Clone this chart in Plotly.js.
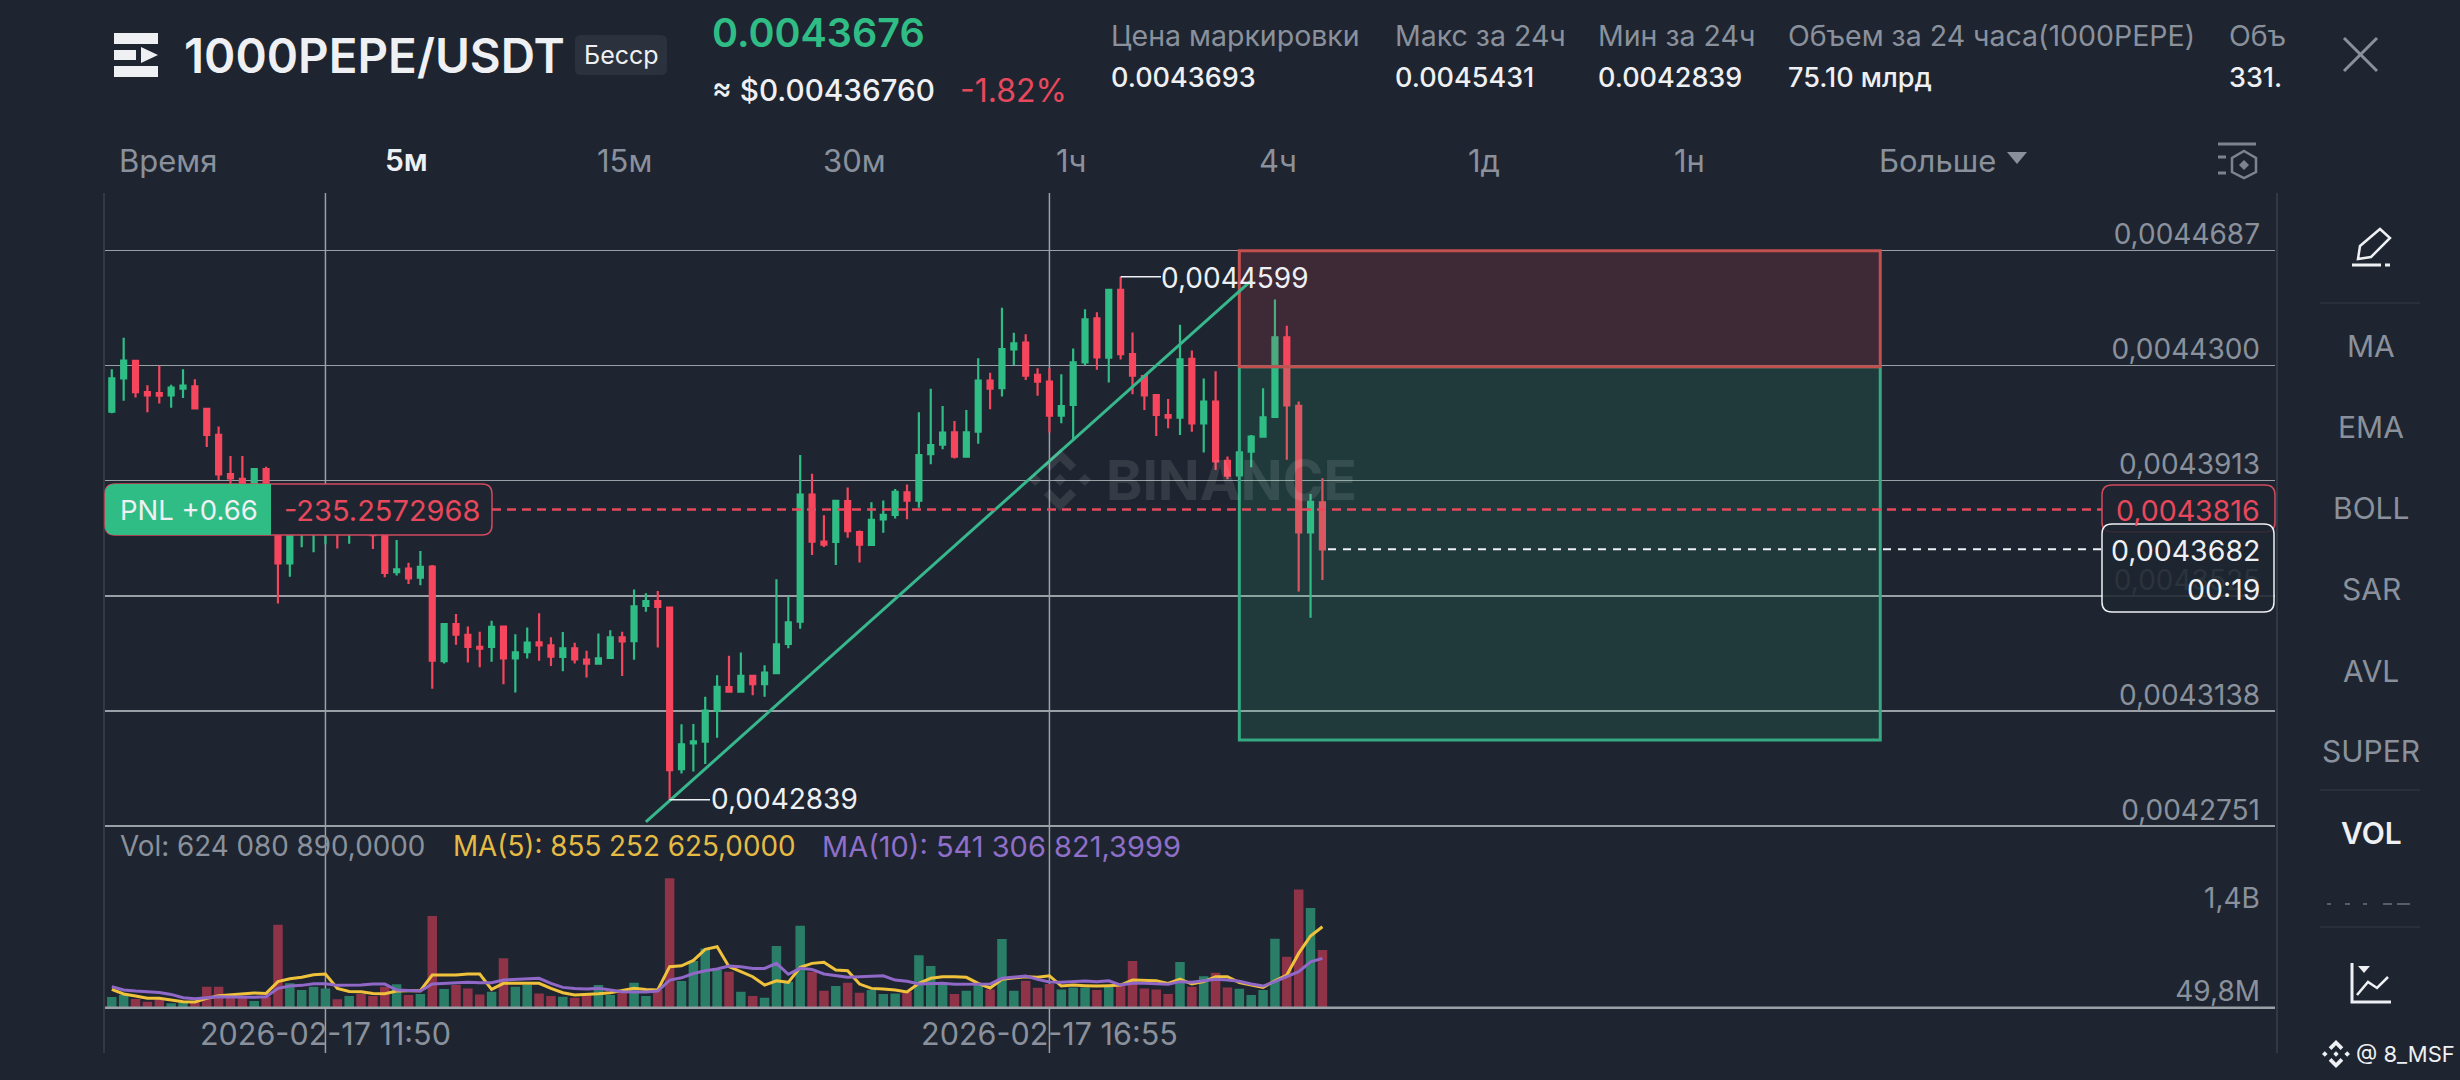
<!DOCTYPE html>
<html><head><meta charset="utf-8">
<script src="https://cdn.plot.ly/plotly-3.0.1.min.js"></script>
<style>html,body{margin:0;padding:0;background:#1e2530;overflow:hidden}#c{width:2460px;height:1080px}svg text{font-variant-numeric:tabular-nums}</style>
</head><body><div id="c"></div>
<script>
// price values x 1e7
const openE7=[44145,44257,44316,44211,44208,44200,44223,44230,44155,44067,43935,43919,43870,43952,43848,43635,43769,43758,43767,43781,43764,43769,43745,43740,43605,43617,43587,43624,43306,43430,43394,43354,43354,43422,43315,43336,43369,43359,43320,43349,43311,43297,43317,43386,43373,43492,43508,43486,42942,43029,43035,43139,43218,43203,43256,43228,43265,43364,43439,43866,43708,43707,43844,43740,43697,43783,43798,43874,43846,44002,44034,44076,43994,44078,44250,44224,44355,44378,44269,44246,44132,44168,44311,44459,44327,44555,44339,44265,44201,44134,44125,44323,44106,44179,43980,43931,44011,44061,44128,44395,44165,43739,43840];
const highE7=[44288,44394,44316,44234,44300,44236,44288,44254,44155,44095,43996,43996,43952,43960,43870,43826,43814,43803,43803,43803,43803,43792,43770,43760,43713,43637,43676,43629,43430,43464,43422,43405,43442,43422,43396,43419,43467,43386,43404,43368,43341,43399,43410,43405,43547,43534,43542,43486,43093,43094,43186,43258,43324,43335,43256,43292,43581,43523,43999,43936,43797,43848,43890,43745,43840,43846,43885,43900,44143,44222,44164,44114,44151,44325,44276,44495,44411,44406,44291,44291,44271,44358,44490,44480,44557,44599,44412,44266,44201,44188,44438,44351,44257,44281,43994,44050,44067,44224,44523,44434,44179,43868,43921];
const lowE7=[44140,44182,44193,44143,44173,44158,44191,44156,44026,43915,43902,43887,43850,43820,43500,43590,43689,43672,43699,43685,43701,43736,43683,43588,43594,43565,43561,43213,43298,43361,43301,43285,43304,43228,43200,43315,43307,43289,43272,43298,43251,43297,43317,43256,43310,43472,43352,42839,42928,42934,42960,43048,43203,43200,43191,43186,43263,43349,43415,43663,43690,43629,43721,43638,43697,43738,43786,43783,43822,43968,44019,43988,43994,44037,44153,44196,44302,44252,44199,44075,44106,44050,44302,44286,44243,44321,44204,44151,44063,44089,44067,44078,44008,43949,43918,43931,43958,44061,44128,43983,43540,43452,43579];
const closeE7=[44257,44317,44211,44200,44199,44226,44233,44156,44067,43934,43921,43904,43952,43848,43635,43803,43792,43781,43781,43758,43775,43758,43730,43603,43615,43584,43623,43307,43430,43395,43354,43348,43421,43315,43335,43368,43359,43321,43349,43312,43297,43315,43386,43372,43490,43508,43488,42939,43026,43036,43139,43219,43203,43256,43228,43267,43362,43436,43866,43708,43698,43845,43743,43698,43781,43798,43875,43846,43999,44033,44075,43994,44076,44250,44223,44356,44375,44266,44246,44132,44164,44311,44456,44328,44555,44339,44266,44200,44134,44125,44321,44106,44179,43978,43930,44008,44061,44126,44395,44166,43739,43842,43682];
// volume in millions
const volumeM=[156,176,136,110,136,93,100,110,259,259,159,159,116,159,876,292,226,259,242,133,166,186,166,259,282,176,186,962,236,275,242,182,209,541,259,275,192,166,159,149,176,275,176,226,299,166,226,1337,316,515,640,425,408,209,166,149,663,308,866,408,219,265,299,199,226,186,192,209,571,464,275,186,219,275,232,733,219,318,249,285,232,252,252,226,265,265,514,242,232,186,504,259,362,398,252,239,176,226,736,557,1227,1042,624];
const ma5M=[232,186,166,143,143,126,110,106,143,169,179,192,196,192,309,338,352,378,385,242,212,209,192,189,216,219,219,375,375,375,385,385,232,292,292,292,292,242,199,176,179,189,199,219,242,232,226,458,467,520,630,657,458,408,358,275,318,302,451,491,501,425,418,285,242,236,226,206,292,342,358,358,352,292,246,332,342,358,352,368,265,275,269,265,269,275,325,318,318,292,335,285,309,358,358,299,275,252,318,375,590,763,855];
const ma10M=[259,226,216,209,202,182,149,139,149,159,156,153,153,159,242,265,272,289,289,272,272,275,285,285,226,219,216,285,292,299,302,299,299,325,332,342,342,292,252,242,236,242,226,209,206,206,216,325,347,390,418,435,464,458,441,441,491,382,441,431,385,365,352,358,365,368,325,312,285,292,292,282,282,285,285,342,352,365,332,305,302,309,315,309,318,275,292,292,285,282,309,302,318,332,325,312,285,265,309,358,408,507,541];

const priceTicks=[0.0044687,0.0044300,0.0043913,0.0043525,0.0043138,0.0042751];
const priceTickText=['0,0044687','0,0044300','0,0043913','0,0043525','0,0043138','0,0042751'];
const dateTicks=['2026-02-17 11:50','2026-02-17 16:55'];
const xView=['2026-02-17 10:17:08','2026-02-18 01:31:18'];
const priceView=[0.0042751,0.0044881];
const volView=[49.8e6,1857.7e6];
const entryPrice=0.0043816, lastPrice=0.0043682;
const zoneTime=['2026-02-17 18:15','2026-02-17 22:45'];
const zoneLevels=[0.0044687,0.0044296,0.0043040];
const trendTime=['2026-02-17 14:05','2026-02-17 18:20'];
const trendPrice=[0.0042765,0.0044586];
const hiLabel={t:'2026-02-17 17:25',end:'2026-02-17 17:42',p:0.0044599}, loLabel={t:'2026-02-17 14:15',end:'2026-02-17 14:32',p:0.0042839};

const W=2460,H=1080;
const X=p=>p/W, Y=p=>1-p/H;
const BG='#1e2530',G='#2fbd85',R='#f6465d',GRAY='#8a919c',WH='#eef0f3',GRID='#9aa0a6';
const FONT='Inter, "Noto Sans", sans-serif';

const times=openE7.map((_,i)=>new Date(Date.UTC(2026,1,17,10,20)+i*3e5).toISOString().slice(0,19).replace('T',' '));
const scale=a=>a.map(v=>v/1e7), mil=a=>a.map(v=>v*1e6);

function poly(pts,close=true){return 'M'+pts.map(p=>X(p[0])+','+Y(p[1])).join('L')+(close?'Z':'');}
function rr(x0,y0,x1,y1,r,rl=r,rr_=r){
  const P=(x,y)=>X(x)+','+Y(y);
  return 'M'+P(x0+rl,y0)+'L'+P(x1-rr_,y0)+(rr_?'Q'+P(x1,y0)+' '+P(x1,y0+rr_):'')+'L'+P(x1,y1-rr_)+(rr_?'Q'+P(x1,y1)+' '+P(x1-rr_,y1):'')+'L'+P(x0+rl,y1)+(rl?'Q'+P(x0,y1)+' '+P(x0,y1-rl):'')+'L'+P(x0,y0+rl)+(rl?'Q'+P(x0,y0)+' '+P(x0+rl,y0):'')+'Z';
}
const pathShape=(path,fill,lineColor,lw,extra={})=>Object.assign({type:'path',xref:'paper',yref:'paper',path,fillcolor:fill||'rgba(0,0,0,0)',line:{color:lineColor||'rgba(0,0,0,0)',width:lw||0},layer:'above'},extra);
const seg=(x0,y0,x1,y1,c,w,layer='above')=>({type:'line',xref:'paper',yref:'paper',x0:X(x0),y0:Y(y0),x1:X(x1),y1:Y(y1),line:{color:c,width:w},layer});
const box=(x0,y0,x1,y1,c)=>({type:'rect',xref:'paper',yref:'paper',x0:X(x0),y0:Y(y0),x1:X(x1),y1:Y(y1),fillcolor:c,line:{width:0},layer:'above'});
function logo(cx,cy,s,c){
  const t=a=>a.map(p=>[cx+p[0]*s,cy+p[1]*s]);
  const parts=[
   [[0,-1],[.52,-.48],[.33,-.29],[0,-.62],[-.33,-.29],[-.52,-.48]],
   [[0,1],[.52,.48],[.33,.29],[0,.62],[-.33,.29],[-.52,.48]],
   [[-1,0],[-.8,-.19],[-.6,0],[-.8,.19]],
   [[1,0],[.8,-.19],[.6,0],[.8,.19]],
   [[0,-.19],[.19,0],[0,.19],[-.19,0]]];
  return pathShape(parts.map(a=>poly(t(a))).join(''),c);
}

const shapes=[
  seg(104,193,104,1053,'#3a414c',1.5),
  seg(2277,193,2277,1053,'#3a414c',1.5),
  seg(105,826,2275,826,GRID,2),
  seg(105,1007.7,2275,1007.7,GRID,2.5),
  ...dateTicks.map(t=>({type:'line',xref:'x',yref:'paper',x0:t,x1:t,y0:Y(193),y1:Y(1053),line:{color:GRID,width:1.5},layer:'below'})),
  {type:'rect',xref:'x',yref:'y',x0:zoneTime[0],x1:zoneTime[1],y0:zoneLevels[1],y1:zoneLevels[2],fillcolor:'rgba(47,189,133,0.14)',line:{color:'#34a982',width:3},layer:'above'},
  {type:'rect',xref:'x',yref:'y',x0:zoneTime[0],x1:zoneTime[1],y0:zoneLevels[0],y1:zoneLevels[1],fillcolor:'rgba(246,70,93,0.15)',line:{color:'#c2504f',width:3},layer:'above'},
  {type:'line',xref:'x',yref:'y',x0:trendTime[0],x1:trendTime[1],y0:trendPrice[0],y1:trendPrice[1],line:{color:'#37b78c',width:3},layer:'above'},
  {type:'line',xref:'x',yref:'y',x0:hiLabel.t,x1:hiLabel.end,y0:hiLabel.p,y1:hiLabel.p,line:{color:WH,width:1.5},layer:'above'},
  {type:'line',xref:'x',yref:'y',x0:loLabel.t,x1:loLabel.end,y0:loLabel.p,y1:loLabel.p,line:{color:WH,width:1.5},layer:'above'},
  {type:'line',xref:'paper',yref:'y',x0:X(492),x1:X(2102),y0:entryPrice,y1:entryPrice,line:{color:'#e8485c',width:2.5,dash:'9px,6px'},layer:'above'},
  {type:'line',xref:'paper',yref:'y',x0:X(1328),x1:X(2102),y0:lastPrice,y1:lastPrice,line:{color:WH,width:2,dash:'8px,7px'},layer:'above'},
  logo(1060,480,31,'rgba(255,255,255,0.10)'),
  pathShape(rr(105,484,492,535,10),BG,'#d24a5e',1.5),
  pathShape(rr(105,484,271,535,0,10,0),G),
  pathShape(rr(2102,485,2275,532,10),BG,'#d24a5e',1.5),
  pathShape(rr(2102,524,2274,612,10),'rgba(30,37,48,0.88)',WH,1.5),
  box(114,33,158,44,WH),box(114,66,158,77,WH),box(114,50,136,60,WH),
  pathShape(poly([[141,47],[158,55],[141,63]]),WH),
  pathShape(rr(575,35,667,75,6),'#2b323e'),
  seg(2344,38,2377,71,GRAY,3),seg(2377,38,2344,71,GRAY,3),
  pathShape(poly([[2007,152],[2027,152],[2017,164]]),GRAY),
  seg(2218,144,2256,144,'#7d8490',3),
  pathShape(poly([[2244,151],[2256,158],[2256,172],[2244,178],[2232,172],[2232,158]]),null,'#7d8490',2.5),
  pathShape(poly([[2244,160],[2249,165],[2244,170],[2239,165]]),'#7d8490'),
  seg(2218,157,2226,157,'#7d8490',3),seg(2218,173,2226,173,'#7d8490',3),
  pathShape(poly([[2358,259],[2360,246],[2380,229],[2390,238],[2371,257]]),null,WH,2.5),
  seg(2352,265,2381,265,WH,3),seg(2385,265,2390,265,WH,3),
  seg(2320,303,2420,303,'#2e3540',1.5),seg(2320,790,2420,790,'#2e3540',1.5),seg(2320,927,2420,927,'#2e3540',1.5),
  seg(2327,904,2331,904,'#6b727d',1.5),seg(2345,904,2350,904,'#6b727d',1.5),seg(2363,904,2367,904,'#6b727d',1.5),seg(2383,904,2392,904,'#6b727d',1.5),seg(2397,904,2410,904,'#6b727d',1.5),
  pathShape(poly([[2352,963],[2352,1002],[2391,1002]],false),null,WH,3),
  pathShape(poly([[2357,995],[2368,982],[2377,988],[2388,977]],false),null,WH,2.5),
  pathShape(poly([[2358,966],[2370,966],[2364,973]]),WH),
  logo(2336,1054,14,WH)
];

const txt=(text,x,y,size,color,anchor='left',weight=400,extra={})=>Object.assign({text,xref:'paper',yref:'paper',x:X(x),y:Y(y),xanchor:anchor,yanchor:'middle',showarrow:false,borderpad:0,font:{family:FONT,size,color,weight}},extra);
const annotations=[
  txt('1000PEPE/USDT',183,56,47.5,WH,'left',600),
  txt('Бесср',621,55,25,WH,'center'),
  txt('0.0043676',711,33,39.5,G,'left',600),
  txt('≈ $0.00436760',711,90,29.7,WH,'left',500),
  txt('-1.82%',959,90,32,'#e8485c'),
  txt('Цена маркировки',1110,35,28.5,GRAY),txt('0.0043693',1110,78,27,WH,'left',500),
  txt('Макс за 24ч',1394,35,28.5,GRAY),txt('0.0045431',1394,78,27,WH,'left',500),
  txt('Мин за 24ч',1597,35,28.5,GRAY),txt('0.0042839',1597,78,27,WH,'left',500),
  txt('Объем за 24 часа(1000PEPE)',1787,35,28.5,GRAY),txt('75.10 млрд',1787,78,27,WH,'left',500),
  txt('Объ',2228,35,28.5,GRAY),txt('331.',2228,78,27,WH,'left',500),
  txt('Время',118,160,31,GRAY),txt('5м',384,160,30,WH,'left',600),txt('15м',596,160,31,GRAY),txt('30м',822,160,31,GRAY),
  txt('1ч',1055,160,31,GRAY),txt('4ч',1258,160,31,GRAY),txt('1д',1467,160,31,GRAY),txt('1н',1673,160,31,GRAY),txt('Больше',1878,160,31,GRAY),
  txt('MA',2371,346,30,GRAY,'center'),txt('EMA',2371,427,30,GRAY,'center'),txt('BOLL',2371,508,30,GRAY,'center'),
  txt('SAR',2371,589,30,GRAY,'center'),txt('AVL',2371,671,30,GRAY,'center'),txt('SUPER',2371,751,30,GRAY,'center'),
  txt('VOL',2371,833,30,WH,'center',600),
  txt('@ 8_MSF',2355,1054,22,WH),
  txt('BINANCE',1105,480,55,'rgba(255,255,255,0.10)','left',700),
  txt('0,0044599',1160,278,28,WH),
  txt('0,0042839',710,799,28,WH),
  txt('PNL +0.66',119,510,27.5,WH),
  txt('-235.2572968',283,510,29,'#e8485c'),
  txt('0,0043816',2261,510,28.5,'#e8485c','right'),
  txt('0,0043682',2261,550,28.5,WH,'right'),
  txt('00:19',2261,589,28.5,WH,'right'),
  txt('Vol: 624 080 890,0000',119,846,27.8,GRAY),
  txt('MA(5): 855 252 625,0000',452,846,27.8,'#e6bb45'),
  txt('MA(10): 541 306 821,3999',821,846,29,'#8f6fc8'),
  txt('1,4B',2261,898,28,GRAY,'right')
];

const data=[
 {type:'candlestick',x:times,open:scale(openE7),high:scale(highE7),low:scale(lowE7),close:scale(closeE7),xaxis:'x',yaxis:'y',
  increasing:{line:{color:G,width:2.2},fillcolor:G},decreasing:{line:{color:R,width:2.2},fillcolor:R},whiskerwidth:0,hoverinfo:'skip'},
 {type:'bar',x:times,y:mil(volumeM),xaxis:'x',yaxis:'y2',marker:{color:closeE7.map((c,i)=>c>=openE7[i]?'#2a7d66':'#8e3348'),line:{width:0}},hoverinfo:'skip'},
 {type:'scatter',mode:'lines',x:times,y:mil(ma5M),xaxis:'x',yaxis:'y2',line:{color:'#f0c23c',width:3},hoverinfo:'skip'},
 {type:'scatter',mode:'lines',x:times,y:mil(ma10M),xaxis:'x',yaxis:'y2',line:{color:'#9068c8',width:3},hoverinfo:'skip'}
];

const layout={
 width:W,height:H,margin:{l:0,r:0,t:0,b:0,pad:0},paper_bgcolor:BG,plot_bgcolor:BG,showlegend:false,hovermode:false,dragmode:false,
 boxgap:0.4,bargap:0.2,
 font:{family:FONT,color:GRAY},
 xaxis:{type:'date',domain:[X(105),X(2275)],range:xView,anchor:'y2',rangeslider:{visible:false},showgrid:false,zeroline:false,showline:false,ticks:'',
        tickmode:'array',tickvals:dateTicks,ticktext:dateTicks,tickfont:{size:30.5,color:GRAY,family:FONT},ticklabelstandoff:6,tickangle:0},
 yaxis:{domain:[Y(826),Y(193)],range:priceView,side:'right',anchor:'x',tickmode:'array',tickvals:priceTicks,ticktext:priceTickText,
        ticklabelposition:'inside',ticklabeloverflow:'allow',ticklabelstandoff:12,ticklabelshift:-16,tickfont:{size:28,color:GRAY,family:FONT},
        showgrid:true,gridcolor:GRID,gridwidth:1.5,zeroline:false,showline:false,ticks:''},
 yaxis2:{domain:[Y(1007.7),Y(826)],range:volView,side:'right',anchor:'x',tickmode:'array',tickvals:[49.8e6],ticktext:['49,8M'],
        ticklabelposition:'inside',ticklabeloverflow:'allow',ticklabelstandoff:12,ticklabelshift:-17,tickfont:{size:28,color:GRAY,family:FONT},
        showgrid:false,zeroline:false,showline:false,ticks:''},
 shapes,annotations
};
Plotly.newPlot('c',data,layout,{displayModeBar:false,staticPlot:true});
</script></body></html>
